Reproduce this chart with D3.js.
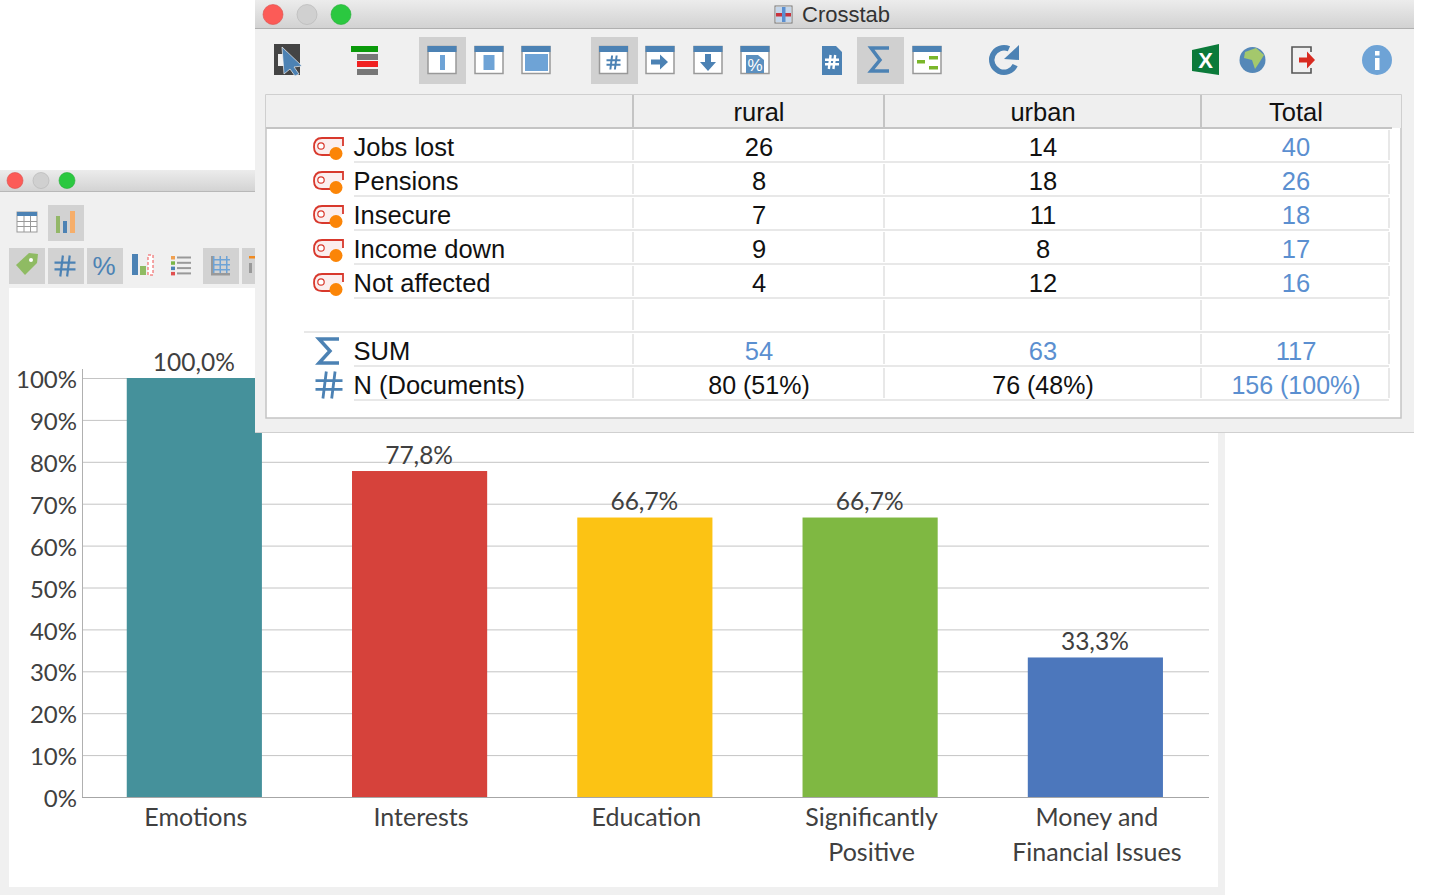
<!DOCTYPE html>
<html>
<head>
<meta charset="utf-8">
<script src="https://cdn.jsdelivr.net/npm/d3@7"></script>
<style>
html, body { margin: 0; padding: 0; background: #fff; overflow: hidden; }
svg { display: block; }
.chartText { font-family: Lato, "Open Sans", sans-serif; fill: #404040; }
.tabText { font-family: "Liberation Sans", Arial, sans-serif; }
</style>
</head>
<body>
<div id="chart"></div>
<script>
// bar chart
var categories = ['Emotions', 'Interests', 'Education', 'Significantly Positive', 'Money and Financial Issues'];
var categoryLines = [['Emotions'], ['Interests'], ['Education'], ['Significantly', 'Positive'], ['Money and', 'Financial Issues']];
var percentages = [100.0, 77.8, 66.7, 66.7, 33.3];
var barColors = ['#45919b', '#d6423b', '#fcc314', '#7fb842', '#4c77bc'];
var percentTicks = [0, 10, 20, 30, 40, 50, 60, 70, 80, 90, 100];

// crosstab
var columns = ['rural', 'urban', 'Total'];
var rowNames = ['Jobs lost', 'Pensions', 'Insecure', 'Income down', 'Not affected'];
var ruralValues = [26, 8, 7, 9, 4];
var urbanValues = [14, 18, 11, 8, 12];
var totalValues = [40, 26, 18, 17, 16];
var sumValues = [54, 63, 117];
var docValues = ['80 (51%)', '76 (48%)', '156 (100%)'];

var BLUE = '#4c82b4', LIGHT = '#6ea3d6', TEXTBLUE = '#5b8fd0';

var svg = d3.select('#chart').append('svg').attr('width', 1441).attr('height', 895);

var shadow = svg.append('defs').append('linearGradient').attr('id', 'bar').attr('x2', 0).attr('y2', 1);
shadow.append('stop').attr('offset', 0).attr('stop-color', '#ececec');
shadow.append('stop').attr('offset', 1).attr('stop-color', '#d2d2d2');

function rect(g, x, y, w, h, fill) {
	return g.append('rect').attr('x', x).attr('y', y).attr('width', w).attr('height', h).attr('fill', fill);
}

function trafficLights(g, xs, y, r) {
	['#fc5b57', '#d0d0d0', '#2bc840'].forEach(function(c, i) {
		g.append('circle').attr('cx', xs[i]).attr('cy', y).attr('r', r).attr('fill', c)
			.attr('stroke', d3.color(c).darker(0.4)).attr('stroke-width', 0.6);
	});
}

// hash sign made of four strokes
function hash(g, cx, cy, size, width, color) {
	var s = size / 2;
	var d = 'M' + (cx - s * 0.2) + ' ' + (cy - s) + ' L' + (cx - s * 0.45) + ' ' + (cy + s) +
		' M' + (cx + s * 0.45) + ' ' + (cy - s) + ' L' + (cx + s * 0.2) + ' ' + (cy + s) +
		' M' + (cx - s) + ' ' + (cy - s * 0.33) + ' H' + (cx + s) +
		' M' + (cx - s) + ' ' + (cy + s * 0.33) + ' H' + (cx + s);
	g.append('path').attr('d', d).attr('fill', 'none').attr('stroke', color).attr('stroke-width', width);
}

// ---- back window: chart ----
var back = svg.append('g');
rect(back, 0, 170, 1225, 725, '#f0f0f0');
rect(back, 0, 170, 1225, 22, 'url(#bar)');
rect(back, 0, 191, 1225, 1, '#b8b8b8');
trafficLights(back, [15, 41, 67], 180.5, 8);
rect(back, 9, 288, 1209, 599, '#fff');

// toolbar of the back window
[[48, 205], [9, 248], [48, 248], [87, 248], [203, 248], [242, 248]].forEach(function(p) {
	rect(back, p[0], p[1], 36, 36, '#d2d2d2');
});
// table icon
rect(back, 17, 212, 20, 20, '#fff').attr('stroke', '#999');
rect(back, 17, 212, 20, 4, BLUE);
[23.5, 30].forEach(function(x) { rect(back, x, 216, 1, 16, '#999'); });
[221, 226].forEach(function(y) { rect(back, 17, y, 20, 1, '#999'); });
// bars icon
rect(back, 56, 216, 4, 17, '#93b768');
rect(back, 63, 221, 4, 12, BLUE);
rect(back, 70, 211, 5, 22, '#f6ae6a');
// tag
back.append('path').attr('d', 'M16 265 L29 253 L38 254 L37 263 L25 275 Z').attr('fill', '#8fbb63');
back.append('circle').attr('cx', 31).attr('cy', 260).attr('r', 2).attr('fill', '#fff');
hash(back, 65, 266, 21, 2.2, BLUE);
back.append('text').attr('class', 'tabText').attr('x', 104).attr('y', 275).attr('text-anchor', 'middle').attr('font-size', 26).attr('fill', BLUE).text('%');
rect(back, 132, 254, 6, 21, BLUE);
rect(back, 140, 266, 6, 9, '#8fbb63');
rect(back, 148, 255, 5, 20, '#fff').attr('stroke', '#f05050').attr('stroke-dasharray', '3 2');
['#f0a050', '#7ab648', BLUE, '#e05050'].forEach(function(c, i) {
	rect(back, 171, 256 + i * 5.3, 4, 3.5, c);
	rect(back, 177, 256.5 + i * 5.3, 14, 2, '#999');
});
[0, 1, 2].forEach(function(i) {
	rect(back, 213 + i * 6.5, 256, 1.5, 17, LIGHT);
	rect(back, 211, 259 + i * 5, 19, 1.5, LIGHT);
});
rect(back, 211, 273, 19, 2.5, '#999');
rect(back, 211, 256, 2, 18, '#999');
rect(back, 249, 256, 6, 2.5, '#f08a20');
rect(back, 249, 263, 3, 10, '#999');

// the chart itself
var x = d3.scaleBand().domain(categories).range([81.7, 1208]).paddingInner(0.4).paddingOuter(0.2);
var y = d3.scaleLinear().domain([0, 100]).range([797, 378]);

var chart = svg.append('g');

chart.append('g').selectAll('line').data(percentTicks).join('line')
	.attr('x1', 82).attr('x2', 1209)
	.attr('y1', function(d) { return y(d) + 0.5; }).attr('y2', function(d) { return y(d) + 0.5; })
	.attr('stroke', function(d) { return d === 0 ? '#a6a6a6' : '#c4c4c4'; }).attr('stroke-width', 1);

chart.append('line').attr('x1', 82.5).attr('x2', 82.5).attr('y1', 369).attr('y2', 797).attr('stroke', '#b0b0b0');

var yAxis = d3.axisLeft(y).tickValues(percentTicks).tickSize(0).tickPadding(5).tickFormat(function(d) { return d + '%'; });
var axisG = chart.append('g').attr('transform', 'translate(82,1)').call(yAxis);
axisG.select('.domain').remove();
axisG.selectAll('text').attr('class', 'chartText').attr('font-family', null).attr('font-size', 24).attr('dy', '0.36em');

chart.selectAll('.bar').data(categories).join('rect').attr('class', 'bar')
	.attr('x', function(d) { return x(d); })
	.attr('width', x.bandwidth())
	.attr('y', function(d, i) { return y(percentages[i]); })
	.attr('height', function(d, i) { return y(0) - y(percentages[i]); })
	.attr('fill', function(d, i) { return barColors[i]; });

chart.selectAll('.valueLabel').data(categories).join('text').attr('class', 'valueLabel chartText')
	.attr('x', function(d) { return x(d) + x.bandwidth() / 2 - 0.5; })
	.attr('y', function(d, i) { return y(percentages[i]) - 7.5; })
	.attr('text-anchor', 'middle').attr('font-size', 24.5)
	.text(function(d, i) { return percentages[i].toFixed(1).replace('.', ',') + '%'; });

categoryLines.forEach(function(lines, i) {
	lines.forEach(function(line, j) {
		chart.append('text').attr('class', 'chartText')
			.attr('x', x(categories[i]) + x.bandwidth() / 2 + 1.5).attr('y', 826 + j * 34.5)
			.attr('text-anchor', 'middle').attr('font-size', 25).text(line);
	});
});

// ---- front window: crosstab ----
var front = svg.append('g');
rect(front, 255, 0, 1159, 433, '#f0f0f0');
rect(front, 255, 0, 1159, 28, 'url(#bar)');
rect(front, 255, 28, 1159, 1, '#b0b0b0');
rect(front, 255, 432, 1159, 1, '#d0d0d0');
trafficLights(front, [273, 307, 341], 14.5, 10);

// title
rect(front, 775, 6, 17, 17, '#fff').attr('stroke', '#777');
rect(front, 776, 7, 15, 15, '#c5d6ea');
rect(front, 776, 13, 15, 3.5, '#c8323c');
rect(front, 782, 7, 3.5, 15, '#5b8fd0');
front.append('text').attr('class', 'tabText').attr('x', 802).attr('y', 22).attr('font-size', 22).attr('fill', '#333').text('Crosstab');

// active toolbar buttons
[419, 591, 857].forEach(function(px) {
	rect(front, px, 37, 47, 47, '#d0d0d0');
});

function windowIcon(cx, draw) {
	rect(front, cx - 14, 46.5, 28, 27, '#fff').attr('stroke', '#999').attr('stroke-width', 1.5);
	rect(front, cx - 14.5, 46, 29, 6, BLUE);
	if (draw) draw(cx);
}
// select icon
rect(front, 274, 44, 26, 31, '#444');
rect(front, 278, 54, 8, 12, '#f0f0f0');
front.append('path').attr('d', 'M282 47 L302 66 L294 67 L299 74 L295 76 L290 69 L284 74 Z').attr('fill', BLUE).attr('stroke', '#f0f0f0').attr('stroke-width', 0.7);
// rows icon
rect(front, 351, 46, 27, 6, '#0a9a0a');
rect(front, 357, 54, 21, 6, '#777');
rect(front, 357, 61, 21, 6, '#f02020');
rect(front, 357, 69, 21, 6, '#777');
windowIcon(442, function(c) { rect(front, c - 2, 55, 5, 15, LIGHT); });
windowIcon(489, function(c) { rect(front, c - 5.5, 55, 11, 15, LIGHT); });
windowIcon(536, function(c) { rect(front, c - 11, 54, 23, 17, LIGHT); });
windowIcon(613.5, function(c) { hash(front, c, 62.5, 14, 2, BLUE); });
windowIcon(660, function(c) {
	front.append('path').attr('d', 'M' + (c - 9) + ' 59.5 h9 v-5 l8 7.5 l-8 7.5 v-5 h-9 z').attr('fill', BLUE);
});
windowIcon(708, function(c) {
	front.append('path').attr('d', 'M' + (c - 3) + ' 54 h6 v8 h5 l-8 9 l-8 -9 h5 z').attr('fill', BLUE);
});
windowIcon(755, function(c) {
	front.append('path').attr('d', 'M' + (c - 9) + ' 73 V55 H' + (c + 3) + ' L' + (c + 9) + ' 60 V73 Z').attr('fill', '#5b90c0');
	front.append('text').attr('class', 'tabText').attr('x', c).attr('y', 71).attr('text-anchor', 'middle').attr('font-size', 17).attr('fill', '#fff').text('%');
});
// document #
front.append('path').attr('d', 'M822 46 h14 l6 6 v23 h-20 z').attr('fill', BLUE);
hash(front, 832, 62, 14, 2.4, '#fff');
// sigma
front.append('path').attr('d', 'M889 48 H871 L880 60 L871 71 H889').attr('fill', 'none').attr('stroke', BLUE).attr('stroke-width', 3.5);
// layout icon
rect(front, 913, 46.5, 28, 27, '#fff').attr('stroke', '#999').attr('stroke-width', 1.5);
rect(front, 912.5, 46, 29, 6, BLUE);
rect(front, 917, 60, 8, 3.5, '#7ab62a');
rect(front, 929, 56, 9, 3.5, '#7ab62a');
rect(front, 929, 66, 9, 3.5, '#7ab62a');
// refresh
front.append('path').attr('d', d3.arc()({ innerRadius: 9.5, outerRadius: 15, startAngle: 2.0, endAngle: 6.7 })).attr('transform', 'translate(1004,60)').attr('fill', BLUE);
front.append('path').attr('d', 'M1019 45 L1019 60 L1004 59 Z').attr('fill', BLUE);
// excel
front.append('path').attr('d', 'M1192 50 L1219 44 V75 L1192 71 Z').attr('fill', '#0b7a3a');
front.append('text').attr('class', 'tabText').attr('x', 1205.5).attr('y', 68).attr('text-anchor', 'middle').attr('font-size', 22).attr('font-weight', 'bold').attr('fill', '#fff').text('X');
// globe
front.append('circle').attr('cx', 1252.5).attr('cy', 60).attr('r', 13).attr('fill', '#5588b8');
front.append('path').attr('d', 'M1245 52 L1256 48 L1264 55 L1259 63 L1255 69 L1252 60 L1244 58 Z').attr('fill', '#a4c86c');
// exit
front.append('path').attr('d', 'M1311 52 V47 H1292 V73 H1311 V68').attr('fill', 'none').attr('stroke', '#555').attr('stroke-width', 1.6);
front.append('path').attr('d', 'M1299 57.5 h8 v-6 l8 8.5 l-8 8.5 v-6 h-8 z').attr('fill', '#d82a20');
// info
front.append('circle').attr('cx', 1377).attr('cy', 60).attr('r', 15).attr('fill', '#6ea3d6');
rect(front, 1375, 58, 4.5, 12, '#fff');
rect(front, 1375, 51, 4.5, 4.5, '#fff');

// table frame
rect(front, 266, 95, 1135, 323, '#fff').attr('stroke', '#c4c4c4').attr('stroke-width', 1.5);
rect(front, 266, 95, 1135, 33, '#efefef');
rect(front, 266, 127, 1126, 2, '#c4c4c4');

var colEdges = [633, 884, 1201, 1389];
colEdges.slice(0, 3).forEach(function(e) { rect(front, e - 1, 95, 2, 33, '#c4c4c4'); });

var colScale = d3.scaleOrdinal().domain(columns).range([759, 1043, 1296]);
var rowKeys = rowNames.concat(['', 'SUM', 'N (Documents)']);
var rowScale = d3.scalePoint().domain(rowKeys).range([147, 385]);

front.selectAll('.colHead').data(columns).join('text').attr('class', 'colHead tabText')
	.attr('x', function(d) { return colScale(d); }).attr('y', 121)
	.attr('text-anchor', 'middle').attr('font-size', 25.5).attr('fill', '#111')
	.text(function(d) { return d; });

// row lines, and column lines broken at each row
rowKeys.forEach(function(k) {
	var cy = rowScale(k);
	rect(front, k === '' ? 304 : 354, cy + 14, k === '' ? 1085 : 1035, 2, '#e8e8e8');
	colEdges.forEach(function(e) { rect(front, e - 1, cy - 17, 2, 30, '#e8e8e8'); });
});

function tabText(xPos, key, text, anchor, fill, size) {
	front.append('text').attr('class', 'tabText')
		.attr('x', xPos).attr('y', rowScale(key) + 8.5)
		.attr('text-anchor', anchor).attr('font-size', size || 25.5).attr('fill', fill).text(text);
}

rowNames.forEach(function(name, i) {
	var cy = rowScale(name);
	// code icon
	front.append('path').attr('d', 'M343 ' + (cy - 1) + ' V' + (cy - 9) + ' H322 Q314 ' + (cy - 9) + ' 314 ' + cy + ' Q314 ' + (cy + 8) + ' 322 ' + (cy + 8) + ' H332')
		.attr('fill', '#fbeeee').attr('stroke', '#d8382c').attr('stroke-width', 1.8);
	front.append('circle').attr('cx', 321).attr('cy', cy - 1).attr('r', 3.2).attr('fill', '#fff').attr('stroke', '#d8382c').attr('stroke-width', 1.2);
	front.append('circle').attr('cx', 336).attr('cy', cy + 6.5).attr('r', 6.5).attr('fill', '#fb8507');

	tabText(353.5, name, name, 'start', '#111');
	tabText(colScale('rural'), name, ruralValues[i], 'middle', '#111');
	tabText(colScale('urban'), name, urbanValues[i], 'middle', '#111');
	tabText(colScale('Total'), name, totalValues[i], 'middle', TEXTBLUE);
});

tabText(353.5, 'SUM', 'SUM', 'start', '#111');
tabText(353.5, 'N (Documents)', 'N (Documents)', 'start', '#111');
columns.forEach(function(c, i) {
	tabText(colScale(c), 'SUM', sumValues[i], 'middle', TEXTBLUE);
	tabText(colScale(c), 'N (Documents)', docValues[i], 'middle', c === 'Total' ? TEXTBLUE : '#111', 25);
});

var sumY = rowScale('SUM'), docY = rowScale('N (Documents)');
front.append('path').attr('d', 'M339 ' + (sumY - 12) + ' H319 L330 ' + sumY + ' L319 ' + (sumY + 12) + ' H339')
	.attr('fill', 'none').attr('stroke', BLUE).attr('stroke-width', 3.5);
hash(front, 329, docY, 27, 2.8, BLUE);
</script>
</body>
</html>
